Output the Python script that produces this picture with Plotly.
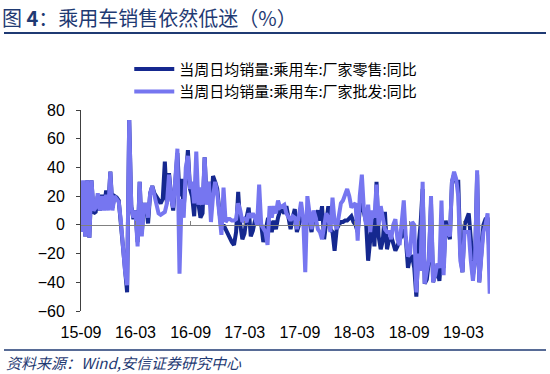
import datetime as dt
import plotly.graph_objects as go

# weekly data, starting 2015-09-01
start = dt.date(2015, 9, 1)

retail_yoy = [
    -5, 30, -8, 31, -9, 31, 8, 9, 20, 10, 21, 12, 24, 12, 37, 12, 20, 19, 17, 0,
    -20, -33, -47, 73, 13, 4, 10, -12, 30, -6, 14, 14, 1, 22, 27, 22, 20, 17, 15, 18,
    44, 15, 36, 20, 10, 30, 50, 20, 32, 12, 38, 52, 25, 20, 6, 35, 15, 5, 8, 47,
    15, 30, 12, 34, 30, 25, 10, -3, 0, -3, -6, -10, -12, -14, -5, 23, 0, -10,
    -6, 5, 12, -8, -4, 3, 5, 4, 0, -12, -3, 3, 2, -5, 3, -3, 5, 10, 10, 8, 13, 5,
    -3, 5, 11, -5, 0, 5, 5, 0, 5, 3, -5, 5, 6, 10, 3, 13, -10, 0,
    13, -3, -5, -18, -3, 0, 2, 2, 3, 3, 5, 6, 2, 0, -5, 10, 15, 9, 2, -25,
    -10, 4, -15, 30, -8, -17, -11, 9, -17, -10, -8, -12, -18, -15, -10, -8, -3, -10, -30, -22,
    -22, -30, -50, -15, 0, 25, -41, -38, -25, 15, -40, -35, -30, -39, -20, -30, 3, -5, -10, 30,
    35, 30, 30, -20, -33, 0, 5, 8, -10, -35, -25, 35, -40, -20, 0, 4, 5, -24,
]
wholesale_yoy = [
    -5, 31, -8, 31, -9, 31, 10, 12, 22, 10, 20, 10, 21, 10, 37, 10, 20, 18, 16, 3,
    -15, -32, -42, 73, 12, 5, 10, -15, 30, -8, 14, 14, 5, 22, 27, 20, 13, 8, 7, 8,
    9, 15, 35, 18, 12, 32, 53, -34, 18, 5, 40, 48, 25, 30, 15, 51, 14, 26, 14, 47,
    14, 30, 2, 20, 30, 22, 8, -7, 26, 2, 4, 4, 3, 3, 4, 15, 10, 2,
    4, 2, 8, 5, 8, 5, 0, 28, 0, -2, -5, -14, 13, 5, 13, 8, 17, 12, 13, 14, 8, 5,
    3, 6, 5, -3, 5, 16, 5, -33, 20, 5, -3, 10, 5, -3, -5, -10, 0, 8,
    5, -5, 19, 2, -3, 5, 15, 17, 22, 25, 20, 12, 14, 15, -11, 20, 35, 10, 0, 14,
    -5, 10, 5, 28, 0, 13, 5, -3, -5, -5, -10, 0, 4, -10, -14, 5, 17, -9, -22, -20,
    2, 0, -47, -20, -32, 30, -41, -32, -24, 20, -40, -35, -27, -30, 17, -35, 0, -5, -8, 30,
    37, 32, 20, -25, -33, -5, -5, -5, -25, -39, -25, 38, -40, -25, -5, 0, 8, -48,
]

dates = [start + dt.timedelta(days=7 * i) for i in range(len(retail_yoy))]

series_names = ["当周日均销量:乘用车:厂家零售:同比", "当周日均销量:乘用车:厂家批发:同比"]
tick_labels_note = ["15-09", "16-03", "16-09", "17-03", "17-09", "18-03", "18-09", "19-03"]

DARK = "#15288F"
LIGHT = "#7676F0"
NAVY = "#1F3A73"
FONT = "Liberation Sans, Arial, Noto Sans CJK SC, sans-serif"
CJK = "Noto Sans CJK SC, sans-serif"

fig = go.Figure()
fig.add_trace(go.Scatter(x=dates, y=retail_yoy, name=series_names[0], mode="lines",
                         line=dict(color=DARK, width=4)))
fig.add_trace(go.Scatter(x=dates, y=wholesale_yoy, name=series_names[1], mode="lines",
                         line=dict(color=LIGHT, width=4)))
# helper trace so the zero-crossing axis is drawn
fig.add_trace(go.Scatter(x=dates[:1], y=[None], xaxis="x2", showlegend=False, hoverinfo="skip"))

x_range = ["2015-09-01", "2019-05-29"]

fig.update_layout(
    width=550, height=374,
    margin=dict(l=81, r=60, t=110, b=63, autoexpand=False),
    paper_bgcolor="white", plot_bgcolor="white",
    font=dict(family=FONT, size=16, color="#000000"),
    showlegend=True,
    legend=dict(x=0.118, y=1.285, xanchor="left", yanchor="top",
                font=dict(family=CJK, size=15, color="#000000"),
                bgcolor="rgba(0,0,0,0)", tracegroupgap=0, itemwidth=40),
    xaxis=dict(type="date", range=x_range, tick0="2015-09-01", dtick="M6",
               tickformat="%y-%m", showline=False, showgrid=False, zeroline=False,
               ticks="", tickfont=dict(family=FONT, size=16, color="#000000"),
               ticklabelstandoff=10),
    xaxis2=dict(type="date", matches="x", anchor="free", position=60 / 140, overlaying="x",
                tick0="2015-09-01", dtick="M6", showticklabels=False,
                showline=True, linecolor="#808080", linewidth=1,
                ticks="inside", ticklen=4, tickcolor="#808080", showgrid=False, zeroline=False),
    yaxis=dict(range=[-60, 80], dtick=20, showline=True, linecolor="#404040", linewidth=1,
               ticks="outside", ticklen=4, tickcolor="#404040", showgrid=False, zeroline=False,
               tickfont=dict(family=FONT, size=16, color="#000000"), ticklabelstandoff=8),
)

# title, rules and source
fig.add_annotation(xref="paper", yref="paper", x=-81 / 409, y=(311 - 17) / 201,
                   xanchor="left", yanchor="middle", showarrow=False,
                   text="图 <b>4</b>：乘用车销售依然低迷（%）",
                   font=dict(family=CJK, size=20, color=NAVY))
fig.add_shape(type="line", xref="paper", yref="paper",
              x0=-77 / 409, x1=465 / 409, y0=(311 - 33) / 201, y1=(311 - 33) / 201,
              line=dict(color=NAVY, width=2))
fig.add_shape(type="line", xref="paper", yref="paper",
              x0=-77 / 409, x1=465 / 409, y0=(311 - 350) / 201, y1=(311 - 350) / 201,
              line=dict(color=NAVY, width=1.5))
fig.add_annotation(xref="paper", yref="paper", x=-77 / 409, y=(311 - 362) / 201,
                   xanchor="left", yanchor="middle", showarrow=False,
                   text="<i>资料来源：Wind,安信证券研究中心</i>",
                   font=dict(family=CJK, size=15, color=NAVY))

fig.write_html("out.html", config={"displayModeBar": False},
               post_script="document.body.style.margin='0px';document.body.style.overflow='hidden';")
